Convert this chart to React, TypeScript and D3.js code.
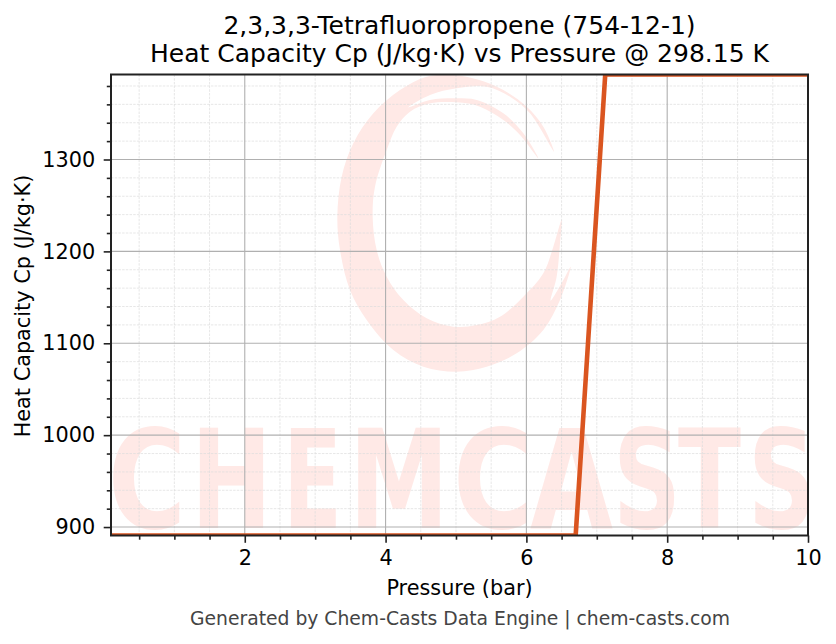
import React, { useEffect, useRef } from "react";
import * as d3 from "d3";

const pressures = [0.1, 6.7, 7.12, 10];
const heatCapacity = [890.8, 890.8, 1392.5, 1392.5];
const xTicks = [2, 4, 6, 8, 10];
const yTicks = [900, 1000, 1100, 1200, 1300];
const xMinorTicks = [0.5, 1, 1.5, 2.5, 3, 3.5, 4.5, 5, 5.5, 6.5, 7, 7.5, 8.5, 9, 9.5];
const yMinorTicks = [920, 940, 960, 980, 1020, 1040, 1060, 1080, 1120, 1140, 1160, 1180, 1220, 1240, 1260, 1280, 1320, 1340, 1360, 1380];

const titleLines = ["2,3,3,3-Tetrafluoropropene (754-12-1)", "Heat Capacity Cp (J/kg·K) vs Pressure @ 298.15 K"];
const xLabel = "Pressure (bar)";
const yLabel = "Heat Capacity Cp (J/kg·K)";
const footer = "Generated by Chem-Casts Data Engine | chem-casts.com";
const watermarkLetters = ["C", "H", "E", "M", "C", "A", "S", "T", "S"];
// left and right pixel edge of each watermark letter
const watermarkEdges: [number, number][] = [
  [108, 186], [191, 272], [283, 342], [349, 449], [453, 534], [530, 613], [613, 681], [678, 741], [748, 816],
];

// brush ring outline of the watermark, in pixels of the zoomed crop
const ringOutline: [number, number][] = [
  [672, 245], [640, 170], [590, 110], [520, 60], [440, 28], [370, 15], [290, 20], [210, 60],
  [130, 130], [70, 220], [35, 320], [22, 440], [30, 540], [60, 660], [110, 750], [190, 840],
  [280, 890], [380, 905], [470, 890], [560, 850], [640, 780], [690, 690], [722, 590],
  [700, 630], [662, 692], [680, 620], [690, 520], [695, 450], [670, 530], [640, 610],
  [580, 680], [510, 740], [440, 765], [370, 770], [290, 745], [220, 690], [170, 620],
  [140, 540], [128, 440], [135, 350], [170, 240], [200, 170], [240, 125], [300, 100],
  [380, 97], [450, 110], [520, 150], [570, 195], [625, 265], [580, 190], [520, 130],
  [440, 90], [380, 85], [300, 90], [235, 112], [300, 75], [380, 55], [470, 50], [540, 80],
  [600, 130],
];

const width = 836;
const height = 644;
const margin = { top: 74.5, right: 28, bottom: 108.5, left: 111 };
const font = "'DejaVu Sans', sans-serif";
const lineColor = "#da5520";
const markColor = "#ffe9e6";

export default function App() {
  const svgRef = useRef<SVGSVGElement | null>(null);

  useEffect(() => {
    const svg = d3.select(svgRef.current);
    svg.selectAll("*").remove();

    const left = margin.left;
    const right = width - margin.right;
    const top = margin.top;
    const bottom = height - margin.bottom;

    const xScale = d3.scaleLinear().domain([0.1, 10]).range([left, right]);
    const yScale = d3.scaleLinear().domain([890.8, 1392.5]).range([bottom, top]);

    svg.append("rect").attr("width", width).attr("height", height).attr("fill", "#fff");

    svg
      .append("defs")
      .append("clipPath")
      .attr("id", "plot-area")
      .append("rect")
      .attr("x", left)
      .attr("y", top)
      .attr("width", right - left)
      .attr("height", bottom - top);

    // Watermark
    const ring = d3
      .line<[number, number]>()
      .x((d) => 330 + d[0] / 3)
      .y((d) => 70 + d[1] / 3)
      .curve(d3.curveCatmullRomClosed.alpha(0.5));
    const mark = svg.append("g").attr("clip-path", "url(#plot-area)");
    mark.append("path").attr("d", ring(ringOutline)).attr("fill", markColor);
    mark
      .selectAll("text")
      .data(watermarkLetters)
      .join("text")
      .attr("x", (_, i) => watermarkEdges[i][0])
      .attr("y", 528)
      .attr("textLength", (_, i) => watermarkEdges[i][1] - watermarkEdges[i][0])
      .attr("lengthAdjust", "spacingAndGlyphs")
      .attr("font-family", font)
      .attr("font-weight", "bold")
      .attr("font-size", 137)
      .attr("fill", markColor)
      .text((d) => d);

    // Grid
    const grid = svg.append("g");
    const gridLines = (
      xs: number[],
      ys: number[],
      stroke: string,
      strokeWidth: number,
      dash: string | null,
    ) => {
      grid
        .append("g")
        .selectAll("line")
        .data(xs)
        .join("line")
        .attr("x1", (d) => xScale(d))
        .attr("x2", (d) => xScale(d))
        .attr("y1", top)
        .attr("y2", bottom)
        .attr("stroke", stroke)
        .attr("stroke-width", strokeWidth)
        .attr("stroke-dasharray", dash);
      grid
        .append("g")
        .selectAll("line")
        .data(ys)
        .join("line")
        .attr("x1", left)
        .attr("x2", right)
        .attr("y1", (d) => yScale(d))
        .attr("y2", (d) => yScale(d))
        .attr("stroke", stroke)
        .attr("stroke-width", strokeWidth)
        .attr("stroke-dasharray", dash);
    };
    gridLines(xMinorTicks, yMinorTicks, "#dcdcdc", 0.7, "2.5 1.2");
    gridLines(xTicks, yTicks, "#b0b0b0", 1.1, null);

    // Series
    const line = d3
      .line<number>()
      .x((d) => xScale(d))
      .y((_, i) => yScale(heatCapacity[i]));
    svg
      .append("path")
      .attr("clip-path", "url(#plot-area)")
      .attr("d", line(pressures))
      .attr("fill", "none")
      .attr("stroke", lineColor)
      .attr("stroke-width", 4.6)
      .attr("stroke-linejoin", "round");

    // Axes
    const bottomAt = `translate(0,${bottom})`;
    const leftAt = `translate(${left},0)`;
    svg
      .append("g")
      .attr("class", "minor")
      .attr("transform", bottomAt)
      .call(d3.axisBottom(xScale).tickValues(xMinorTicks).tickSize(4.2));
    svg
      .append("g")
      .attr("transform", bottomAt)
      .call(d3.axisBottom(xScale).tickValues(xTicks).tickSize(7.3).tickPadding(7.3).tickFormat(d3.format("d")));
    svg
      .append("g")
      .attr("class", "minor")
      .attr("transform", leftAt)
      .call(d3.axisLeft(yScale).tickValues(yMinorTicks).tickSize(4.2));
    svg
      .append("g")
      .attr("transform", leftAt)
      .call(d3.axisLeft(yScale).tickValues(yTicks).tickSize(7.3).tickPadding(8.5).tickFormat(d3.format("d")));
    svg.selectAll(".minor text").remove();
    svg.selectAll(".domain").remove();
    svg.selectAll(".tick line").attr("stroke", "#222").attr("stroke-width", 1.6);
    svg
      .selectAll(".tick text")
      .attr("font-family", font)
      .attr("font-size", 20.8)
      .attr("fill", "#000");

    svg
      .append("rect")
      .attr("x", left)
      .attr("y", top)
      .attr("width", right - left)
      .attr("height", bottom - top)
      .attr("fill", "none")
      .attr("stroke", "#222")
      .attr("stroke-width", 2);

    // Text
    const label = (t: string, x: number, y: number, size: number, fill = "#000") =>
      svg
        .append("text")
        .attr("x", x)
        .attr("y", y)
        .attr("text-anchor", "middle")
        .attr("font-family", font)
        .attr("font-size", size)
        .attr("fill", fill)
        .text(t);

    label(titleLines[0], 459.5, 34, 25);
    label(titleLines[1], 459.5, 62, 25);
    label(xLabel, 459.5, 595, 20.8);
    label(footer, 460, 625, 18.75, "#444");
    label(yLabel, 0, 0, 20.8).attr("transform", "translate(30,306) rotate(-90)");
  }, []);

  return (
    <svg
      ref={svgRef}
      width={width}
      height={height}
      style={{ position: "absolute", left: 0, top: 0 }}
    />
  );
}
